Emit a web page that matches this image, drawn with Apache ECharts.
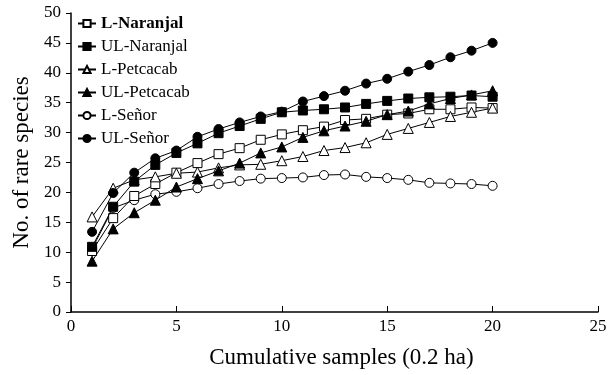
<!DOCTYPE html>
<html>
<head>
<meta charset="utf-8">
<script src="https://cdn.jsdelivr.net/npm/echarts@6/dist/echarts.min.js"></script>
<style>
  html, body { margin: 0; padding: 0; background: #fff; }
  #chart { width: 616px; height: 375px; }
</style>
</head>
<body>
<div id="chart"></div>
<script>
// cumulative samples
var samples = [1,2,3,4,5,6,7,8,9,10,11,12,13,14,15,16,17,18,19,20];

// rare species per series
var lNaranjal  = [10.2,15.7,19.4,21.4,23.3,24.9,26.4,27.4,28.8,29.7,30.4,31.0,32.1,32.3,33.0,33.2,33.9,33.9,34.2,34.1];
var ulNaranjal = [10.9,17.6,21.8,24.6,26.6,28.2,29.9,31.1,32.3,33.4,33.7,33.9,34.2,34.8,35.3,35.7,35.9,36.0,36.2,36.0];
var lPetcacab  = [15.9,20.7,22.1,22.6,23.2,23.4,24.1,24.6,24.7,25.3,26.0,27.0,27.5,28.3,29.7,30.7,31.7,32.7,33.4,34.1];
var ulPetcacab = [8.5,13.9,16.6,18.7,20.9,22.3,23.6,24.9,26.6,27.6,29.2,30.3,31.1,31.9,33.0,33.6,34.8,35.7,36.3,37.0];
var lSenor     = [10.6,17.4,18.7,19.7,20.1,20.7,21.4,21.9,22.3,22.4,22.5,22.9,23.0,22.6,22.4,22.1,21.6,21.5,21.4,21.1];
var ulSenor    = [13.4,19.9,23.3,25.7,27.0,29.3,30.6,31.7,32.7,33.5,35.2,36.1,37.0,38.2,39.0,40.2,41.3,42.6,43.7,45.0];

var names = ['L-Naranjal','UL-Naranjal','L-Petcacab','UL-Petcacab','L-Señor','UL-Señor'];

var chart = echarts.init(document.getElementById('chart'), null, {renderer: 'canvas'});

function pairs(vals) {
    var out = [];
    for (var i = 0; i < samples.length; i++) out.push([samples[i], vals[i]]);
    return out;
}

function mkSeries(name, vals, symbol, filled, z) {
    return {
        name: name,
        type: 'line',
        data: pairs(vals),
        symbol: symbol,
        symbolSize: symbol === 'triangle' ? 10 : 9,
        showAllSymbol: true,
        lineStyle: { color: '#000', width: 1 },
        itemStyle: {
            color: filled ? '#000' : '#fff',
            borderColor: '#000',
            borderWidth: 1
        },
        emphasis: { disabled: true },
        animation: false,
        z: z
    };
}

var fontFam = '"Liberation Serif", "DejaVu Serif", serif';

var option = {
    backgroundColor: '#fff',
    animation: false,
    textStyle: { fontFamily: fontFam, color: '#000' },
    grid: { left: 71, right: 18, top: 13, bottom: 63, containLabel: false },
    legend: {
        orient: 'vertical',
        left: 77,
        top: 15,
        padding: 0,
        itemGap: 6,
        itemWidth: 18,
        itemHeight: 9,
        textStyle: { fontFamily: fontFam, fontSize: 17, color: '#000' },
        data: [
            { name: names[0], textStyle: { fontWeight: 'bold' } },
            names[1], names[2], names[3], names[4], names[5]
        ]
    },
    xAxis: {
        type: 'value',
        min: 0,
        max: 25,
        interval: 5,
        name: 'Cumulative samples (0.2 ha)',
        nameLocation: 'middle',
        nameGap: 34,
        nameTextStyle: { fontFamily: fontFam, fontSize: 23, color: '#000', padding: [0, 0, 0, 14] },
        axisLine: { lineStyle: { color: '#000', width: 1.5 } },
        axisTick: { show: true, inside: true, length: 6, lineStyle: { color: '#000' } },
        axisLabel: { fontFamily: fontFam, fontSize: 17, color: '#000', margin: 6 },
        splitLine: { show: false }
    },
    yAxis: {
        type: 'value',
        min: 0,
        max: 50,
        interval: 5,
        name: 'No. of rare species',
        nameLocation: 'middle',
        nameGap: 38,
        nameTextStyle: { fontFamily: fontFam, fontSize: 23, color: '#000' },
        axisLine: { lineStyle: { color: '#000', width: 1.5 } },
        axisTick: { show: true, inside: false, length: 5, lineStyle: { color: '#000' } },
        axisLabel: { fontFamily: fontFam, fontSize: 17, color: '#000', margin: 10 },
        splitLine: { show: false }
    },
    series: [
        mkSeries(names[0], lNaranjal, 'rect', false, 3),
        mkSeries(names[1], ulNaranjal, 'rect', true, 4),
        mkSeries(names[2], lPetcacab, 'triangle', false, 3),
        mkSeries(names[3], ulPetcacab, 'triangle', true, 4),
        mkSeries(names[4], lSenor, 'circle', false, 2),
        mkSeries(names[5], ulSenor, 'circle', true, 4)
    ]
};

chart.setOption(option);
</script>
</body>
</html>
